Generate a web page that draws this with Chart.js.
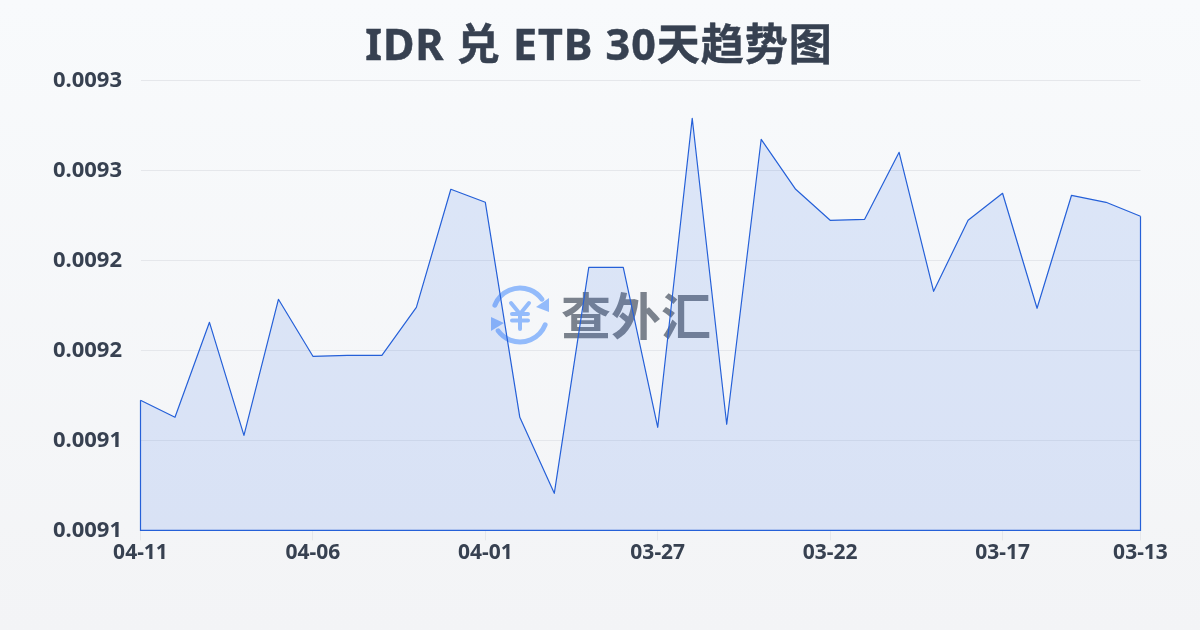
<!DOCTYPE html>
<html>
<head>
<meta charset="utf-8">
<script src="https://cdn.jsdelivr.net/npm/chart.js@4"></script>
<style>
  html, body { margin: 0; padding: 0; }
  body { width: 1200px; height: 630px; overflow: hidden; background: linear-gradient(180deg, #f8fafc 0%, #f3f4f6 100%); }
  #wrap { position: relative; width: 1200px; height: 630px; }
  #title {
    position: absolute; left: 0; top: 15px; width: 1198px; margin: 0;
    text-align: center; color: #374151;
    font: bold 43px/58px "Noto Sans", "Noto Sans CJK SC", sans-serif;
    letter-spacing: 1px;
    -webkit-text-stroke: 0.5px #374151;
  }
</style>
</head>
<body>
<div id="wrap">
  <h1 id="title">IDR 兑 ETB 30天趋势图</h1>
  <canvas id="chart" width="1200" height="630"></canvas>
</div>
<script>
const dates = ['04-11','04-10','04-09','04-08','04-07','04-06','04-05','04-04','04-03','04-02',
  '04-01','03-31','03-30','03-29','03-28','03-27','03-26','03-25','03-24','03-23',
  '03-22','03-21','03-20','03-19','03-18','03-17','03-16','03-15','03-14','03-13'];
const rates = [0.00915778,0.00915022,0.00919244,0.00914222,0.00920267,0.00917733,0.00917778,0.00917778,0.00919911,0.00925156,
  0.00924578,0.00915022,0.00911644,0.00921689,0.00921689,0.00914578,0.00928311,0.00914711,0.00927378,0.00925156,
  0.00923778,0.00923822,0.00926800,0.00920622,0.00923778,0.00924978,0.00919867,0.00924889,0.00924578,0.00923956];
const yMin = 0.0091;
const yMax = 0.0093;
const yStep = 0.00004;

const FONT = '"Noto Sans", "Noto Sans CJK SC", sans-serif';
const TEXT_COLOR = '#374151';
const LINE_COLOR = '#2560d8';

function isLabelled(index) {
  return index % 5 === 0 || index === dates.length - 1;
}

// Watermark sits under the line
const watermark = {
  id: 'watermark',
  beforeDatasetsDraw(chart) {
    const ctx = chart.ctx;
    const cx = 520, cy = 315, r = 27;
    ctx.save();
    ctx.strokeStyle = '#93bbfb';
    ctx.fillStyle = '#93bbfb';
    ctx.lineWidth = 5;
    ctx.lineCap = 'round';
    ctx.lineJoin = 'round';
    // two circular arrows
    ctx.beginPath();
    ctx.arc(cx, cy, r, Math.PI * 1.12, Math.PI * 1.8);
    ctx.stroke();
    ctx.beginPath();
    ctx.arc(cx, cy, r, Math.PI * 0.12, Math.PI * 0.8);
    ctx.stroke();
    ctx.beginPath();
    ctx.moveTo(549, 298); ctx.lineTo(549, 312); ctx.lineTo(536, 307);
    ctx.closePath(); ctx.fill();
    ctx.beginPath();
    ctx.moveTo(491, 317); ctx.lineTo(491, 331); ctx.lineTo(504, 323);
    ctx.closePath(); ctx.fill();
    // yen sign
    ctx.lineWidth = 4;
    ctx.beginPath();
    ctx.moveTo(511, 303); ctx.lineTo(520, 314); ctx.lineTo(529, 303);
    ctx.moveTo(520, 314); ctx.lineTo(520, 329);
    ctx.moveTo(512, 314); ctx.lineTo(528, 314);
    ctx.moveTo(512, 320.5); ctx.lineTo(528, 320.5);
    ctx.stroke();
    // name
    ctx.fillStyle = 'rgba(75,85,99,0.72)';
    ctx.font = 'bold 50px "Noto Sans CJK SC", sans-serif';
    ctx.textAlign = 'left';
    ctx.textBaseline = 'middle';
    ctx.fillText('查外汇', 561, 316);
    ctx.restore();
  }
};

// The area outline runs down both ends and along the base
const areaOutline = {
  id: 'areaOutline',
  afterDatasetsDraw(chart) {
    const { ctx, scales } = chart;
    const xFirst = scales.x.getPixelForValue(0);
    const xLast = scales.x.getPixelForValue(dates.length - 1);
    const yBase = scales.y.getPixelForValue(yMin);
    ctx.save();
    ctx.strokeStyle = LINE_COLOR;
    ctx.lineWidth = 1.2;
    ctx.beginPath();
    ctx.moveTo(xFirst, scales.y.getPixelForValue(rates[0]));
    ctx.lineTo(xFirst, yBase);
    ctx.lineTo(xLast, yBase);
    ctx.lineTo(xLast, scales.y.getPixelForValue(rates[rates.length - 1]));
    ctx.stroke();
    ctx.restore();
  }
};

new Chart(document.getElementById('chart').getContext('2d'), {
  type: 'line',
  data: {
    labels: dates,
    datasets: [{
      data: rates,
      borderColor: LINE_COLOR,
      borderWidth: 1.2,
      borderJoinStyle: 'round',
      backgroundColor: 'rgba(37,99,235,0.13)',
      fill: 'start',
      pointRadius: 0,
      tension: 0
    }]
  },
  options: {
    responsive: false,
    animation: false,
    layout: { padding: { left: 0, right: 59.5, top: 80.3, bottom: 0 } },
    plugins: {
      legend: { display: false },
      tooltip: { enabled: false },
      title: { display: false }
    },
    scales: {
      x: {
        grid: {
          drawOnChartArea: false,
          drawTicks: true,
          tickLength: 10,
          tickColor: c => isLabelled(c.index) ? '#e5e7eb' : 'transparent'
        },
        border: { display: false },
        afterFit(scale) { scale.height = 99.7; },
        ticks: {
          autoSkip: false,
          maxRotation: 0,
          padding: 0,
          color: TEXT_COLOR,
          font: { family: FONT, size: 21, weight: 'bold' },
          callback(value, index) {
            return isLabelled(index) ? dates[index] : '';
          }
        }
      },
      y: {
        min: yMin,
        max: yMax,
        afterFit(scale) { scale.width = 140.5; },
        grid: { color: '#e5e7eb', drawTicks: false },
        border: { display: false },
        ticks: {
          stepSize: yStep,
          padding: 18.5,
          color: TEXT_COLOR,
          font: { family: FONT, size: 22, weight: 'bold' },
          callback: value => value.toFixed(4)
        }
      }
    }
  },
  plugins: [watermark, areaOutline]
});
</script>
</body>
</html>
